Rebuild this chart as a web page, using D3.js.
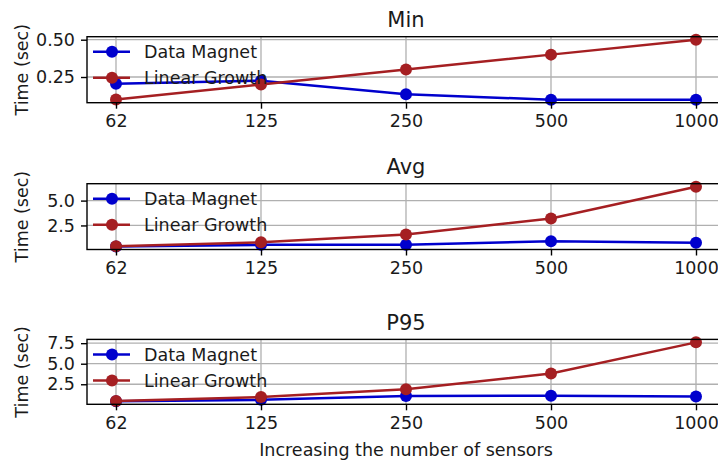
<!DOCTYPE html>
<html>
<head>
<meta charset="utf-8">
<script src="https://cdn.jsdelivr.net/npm/d3@7"></script>
<style>
  body { margin: 0; background: #fff; }
  svg { display: block; font-family: "DejaVu Sans", sans-serif; }
</style>
</head>
<body>
<div id="chart"></div>
<script>
const sensors = ['62', '125', '250', '500', '1000'];

const minMagnet = [0.205, 0.225, 0.135, 0.098, 0.098];
const minLinear = [0.1, 0.2, 0.3, 0.4, 0.5];
const avgMagnet = [0.38, 0.55, 0.55, 0.9, 0.75];
const avgLinear = [0.4, 0.8, 1.6, 3.2, 6.4];
const p95Magnet = [0.42, 0.6, 1.08, 1.1, 1.0];
const p95Linear = [0.475, 0.95, 1.9, 3.8, 7.6];

const minTicks = [0.25, 0.5];
const avgTicks = [2.5, 5.0];
const p95Ticks = [2.5, 5.0, 7.5];

const seriesNames = ['Data Magnet', 'Linear Growth'];
const colors = ['#0000cd', '#a51f22'];

const width = 718, height = 460;
const left = 87, right = 725;
const fs = 17.5;

const panels = [
  { title: 'Min', top: 36.7, bottom: 102.7, ticks: minTicks, fmt: '.2f', data: [minMagnet, minLinear] },
  { title: 'Avg', top: 183.7, bottom: 249.5, ticks: avgTicks, fmt: '.1f', data: [avgMagnet, avgLinear] },
  { title: 'P95', top: 339.4, bottom: 404.3, ticks: p95Ticks, fmt: '.1f', data: [p95Magnet, p95Linear] }
];

const svg = d3.select('#chart').append('svg')
  .attr('width', width)
  .attr('height', height);

const x = d3.scalePoint()
  .domain(sensors)
  .range([left, right])
  .padding(0.2);

panels.forEach(p => {
  const all = p.data.flat();
  const lo = d3.min(all), hi = d3.max(all);
  const m = (hi - lo) * 0.05;
  const y = d3.scaleLinear()
    .domain([lo - m, hi + m])
    .range([p.bottom, p.top]);

  const g = svg.append('g');

  // grid
  g.selectAll('.vgrid').data(sensors).enter().append('line')
    .attr('x1', d => x(d)).attr('x2', d => x(d))
    .attr('y1', p.top).attr('y2', p.bottom)
    .attr('stroke', '#b0b0b0').attr('stroke-width', 1.3);
  g.selectAll('.hgrid').data(p.ticks).enter().append('line')
    .attr('x1', left).attr('x2', right)
    .attr('y1', d => y(d)).attr('y2', d => y(d))
    .attr('stroke', '#b0b0b0').attr('stroke-width', 1.3);

  // lines + markers
  const line = d3.line().x((d, i) => x(sensors[i])).y(d => y(d));
  p.data.forEach((vals, k) => {
    g.append('path')
      .attr('d', line(vals))
      .attr('fill', 'none')
      .attr('stroke', colors[k])
      .attr('stroke-width', 2.5);
    g.selectAll('.pt' + k).data(vals).enter().append('circle')
      .attr('cx', (d, i) => x(sensors[i]))
      .attr('cy', d => y(d))
      .attr('r', 6)
      .attr('fill', colors[k]);
  });

  // spines
  g.append('rect')
    .attr('x', left).attr('y', p.top)
    .attr('width', right - left).attr('height', p.bottom - p.top)
    .attr('fill', 'none').attr('stroke', '#000').attr('stroke-width', 1.4);

  // x axis
  const xa = g.append('g').attr('transform', `translate(0,${p.bottom})`)
    .call(d3.axisBottom(x).tickSize(6).tickPadding(6));
  xa.select('.domain').remove();
  xa.selectAll('line').attr('stroke', '#000').attr('stroke-width', 1.4);
  xa.selectAll('text').attr('font-size', fs).attr('fill', '#1a1a1a')
    .attr('font-family', '"DejaVu Sans", sans-serif');

  // y axis
  const ya = g.append('g').attr('transform', `translate(${left},0)`)
    .call(d3.axisLeft(y).tickValues(p.ticks).tickFormat(d3.format(p.fmt)).tickSize(6).tickPadding(6));
  ya.select('.domain').remove();
  ya.selectAll('line').attr('stroke', '#000').attr('stroke-width', 1.4);
  ya.selectAll('text').attr('font-size', fs).attr('fill', '#1a1a1a')
    .attr('font-family', '"DejaVu Sans", sans-serif');

  // title
  g.append('text')
    .attr('x', (left + right) / 2).attr('y', p.top - 9.5)
    .attr('text-anchor', 'middle')
    .attr('font-size', 21).attr('fill', '#1a1a1a')
    .text(p.title);

  // y label
  g.append('text')
    .attr('transform', `translate(28,${(p.top + p.bottom) / 2}) rotate(-90)`)
    .attr('text-anchor', 'middle')
    .attr('font-size', fs).attr('fill', '#1a1a1a')
    .text('Time (sec)');

  // legend (no frame)
  seriesNames.forEach((name, k) => {
    const ly = p.top + 15 + k * 26;
    g.append('line')
      .attr('x1', 93).attr('x2', 130).attr('y1', ly).attr('y2', ly)
      .attr('stroke', colors[k]).attr('stroke-width', 2.5);
    g.append('circle')
      .attr('cx', 112).attr('cy', ly).attr('r', 6).attr('fill', colors[k]);
    g.append('text')
      .attr('x', 144).attr('y', ly).attr('dy', '0.36em')
      .attr('font-size', fs).attr('fill', '#1a1a1a')
      .text(name);
  });
});

svg.append('text')
  .attr('x', (left + right) / 2).attr('y', 456)
  .attr('text-anchor', 'middle')
  .attr('font-size', fs).attr('fill', '#1a1a1a')
  .text('Increasing the number of sensors');
</script>
</body>
</html>
